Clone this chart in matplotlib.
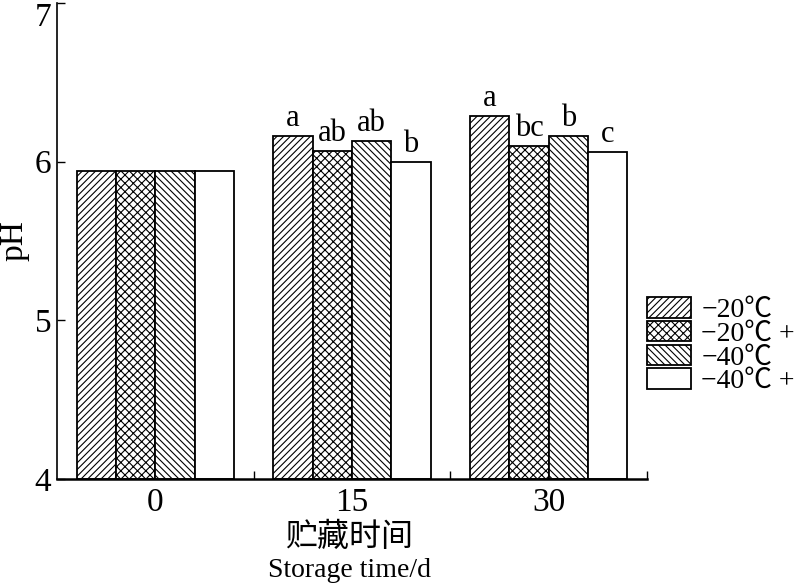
import matplotlib
matplotlib.use('Agg')
import matplotlib.pyplot as plt
import numpy as np

plt.rcParams['font.family'] = ['Liberation Serif', 'Noto Sans CJK SC', 'DejaVu Sans']
plt.rcParams['hatch.linewidth'] = 0.8

days = ['0', '15', '30']
series = ['\u221220\u2103', '\u221220\u2103 +', '\u221240\u2103', '\u221240\u2103 +']
ph_m20 = [5.94, 6.16, 6.29]
ph_m20p = [5.94, 6.07, 6.10]
ph_m40 = [5.94, 6.13, 6.16]
ph_m40p = [5.94, 6.00, 6.06]
letters = [
    ['', 'a', 'a'],
    ['', 'ab', 'bc'],
    ['', 'ab', 'b'],
    ['', 'b', 'c'],
]
values = [ph_m20, ph_m20p, ph_m40, ph_m40p]
hatches = ['/////', 'xxxx', '\\\\\\\\\\', '']

fig = plt.figure(figsize=(7.99, 5.85), dpi=100)
ax = fig.add_axes([0.0713, 0.1812, 0.7385, 0.8137])

x = np.arange(len(days))
w = 0.2
for i, vals in enumerate(values):
    pos = x + (i - 1.5) * w
    ax.bar(pos, np.array(vals) - 4, bottom=4, width=w, color='white',
           edgecolor='black', linewidth=1.3, hatch=hatches[i], label=series[i])
    for p, v, t in zip(pos, vals, letters[i]):
        if t:
            ax.annotate(t, (p, v), xytext=(0, 2), textcoords='offset points',
                        ha='center', va='bottom', fontsize=22)

ax.set_xlim(-0.5, 2.5)
ax.set_ylim(4, 7)
ax.set_yticks([4, 5, 6, 7])
ax.set_xticks(x)
ax.set_xticklabels(days)
ax.set_xticks([0.5, 1.5, 2.5], minor=True)
ax.tick_params(axis='x', which='major', length=0, labelsize=24, pad=6)
ax.tick_params(axis='x', which='minor', direction='in', length=6, width=1)
ax.tick_params(axis='y', direction='in', length=6, width=1, labelsize=24, pad=4)
ax.get_yticklabels()[-1].set_va('top')
ax.spines['top'].set_visible(False)
ax.spines['right'].set_visible(False)
ax.spines['left'].set_linewidth(1.2)
ax.spines['bottom'].set_linewidth(1.8)

ax.set_ylabel('pH', fontsize=24, labelpad=4)
fig.text(0.437, 0.08, '贮藏时间', ha='center', va='center', fontsize=23)
fig.text(0.437, 0.025, 'Storage time/d', ha='center', va='center', fontsize=20)

ax.legend(loc='center left', bbox_to_anchor=(1.0, 0.28), frameon=False,
          borderaxespad=0, borderpad=0, fontsize=20, handlelength=1.6,
          handleheight=0.75, handletextpad=0.35, labelspacing=-0.08)

fig.savefig('out.png', dpi=100)
